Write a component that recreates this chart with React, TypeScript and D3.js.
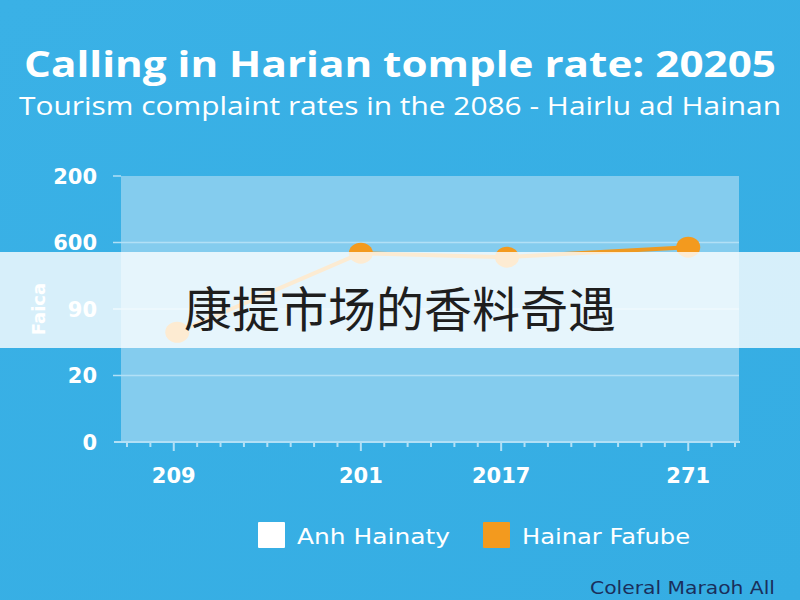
import React from 'react';
import * as d3 from 'd3';

// chart values
const xLabels = ['209', '201', '2017', '271'];
const xLabelPos = [2, 10, 16, 24];
const pointX = [2.15, 10, 16.25, 24];
const pointY = [1.65, 2.84, 2.78, 2.93];
const yLabels = ['0', '20', '90', '600', '200'];
const legendItems = ['Anh Hainaty', 'Hainar Fafube'];

const W = 800;
const H = 600;
const plot = { left: 121, right: 739, top: 176, bottom: 442 };

export default function App() {
    const x = d3.scaleLinear().domain([0, 26]).range([127, 735]);
    const y = d3.scaleLinear().domain([0, 4]).range([plot.bottom, plot.top]);
    const minorTicks = d3.range(0, 27);
    const pts = pointX.map((v, i) => [x(v), y(pointY[i])] as [number, number]);
    const line = d3.line()(pts) || '';

    const sans = '"DejaVu Sans", Verdana, sans-serif';
    const open = '"Open Sans", "DejaVu Sans", sans-serif';

    return (
        <div style={{ position: 'absolute', left: 0, top: 0 }}>
            <svg width={W} height={H} style={{ display: 'block' }}>
                <defs>
                    <linearGradient id="bg" x1="0" y1="0" x2="1" y2="1">
                        <stop offset="0" stopColor="#3ab1e6" />
                        <stop offset="1" stopColor="#35ade3" />
                    </linearGradient>
                </defs>
                <rect width={W} height={H} fill="url(#bg)" />

                <text x={W / 2} y={77} textAnchor="middle" fill="#fff" fontFamily={open}
                    fontWeight="bold" fontSize={36} textLength={752} lengthAdjust="spacingAndGlyphs">
                    Calling in Harian tomple rate: 20205</text>
                <text x={W / 2} y={115} textAnchor="middle" fill="#fff" fontFamily={open}
                    fontSize={26} textLength={762} lengthAdjust="spacingAndGlyphs">
                    Tourism complaint rates in the 2086 - Hairlu ad Hainan</text>

                {/* plot area */}
                <rect x={plot.left} y={plot.top} width={plot.right - plot.left} height={plot.bottom - plot.top}
                    fill="#84ccee" />
                {yLabels.map((l, i) => (
                    <g key={l}>
                        {i > 0 && i < yLabels.length - 1 && (
                            <line x1={113} x2={plot.right} y1={y(i)} y2={y(i)} stroke="#b2e0f6" strokeWidth={1.5} />
                        )}
                        {i === yLabels.length - 1 && (
                            <line x1={113} x2={plot.left} y1={y(i)} y2={y(i)} stroke="#b2e0f6" strokeWidth={1.5} />
                        )}
                        <text x={97} y={y(i) + 7.5} textAnchor="end" fill="#fff" fontFamily={sans}
                            fontWeight="bold" fontSize={21}>{l}</text>
                    </g>
                ))}
                <text transform={`translate(45,${y(2)}) rotate(-90)`} textAnchor="middle" fill="#fff"
                    fontFamily={sans} fontWeight="bold" fontSize={18}>Faica</text>

                {/* x axis */}
                <line x1={114} x2={740} y1={plot.bottom} y2={plot.bottom} stroke="#b2e0f6" strokeWidth={2} />
                {minorTicks.map(t => (
                    <line key={t} x1={x(t)} x2={x(t)} y1={plot.bottom} y2={plot.bottom + (xLabelPos.includes(t) ? 9 : 5)}
                        stroke="#b2e0f6" strokeWidth={2} />
                ))}
                {xLabels.map((l, i) => (
                    <text key={l} x={x(xLabelPos[i])} y={483} textAnchor="middle" fill="#fff" fontFamily={sans}
                        fontWeight="bold" fontSize={21}>{l}</text>
                ))}

                {/* series */}
                <path d={line} fill="none" stroke="#ee9a22" strokeWidth={4} />
                {pts.map((p, i) => (
                    <ellipse key={i} cx={p[0]} cy={p[1]} rx={12} ry={10.5} fill="#f39a1e" />
                ))}

                {/* overlay band */}
                <rect x={0} y={252} width={W} height={96} fill="#fff" fillOpacity={0.8} />
                <text x={W / 2} y={327} textAnchor="middle" fill="#1e1e1e"
                    fontFamily='"Noto Sans CJK SC", sans-serif' fontSize={48}>康提市场的香料奇遇</text>

                {/* legend */}
                {legendItems.map((l, i) => {
                    const lx = 258 + i * 225;
                    return (
                        <g key={l}>
                            <rect x={lx} y={522} width={27} height={26} rx={1} fill={i === 0 ? '#ffffff' : '#f39a1e'} />
                            <text x={lx + 39} y={544} fill="#fff" fontFamily={sans} fontSize={22}
                                textLength={i === 0 ? 153 : 168} lengthAdjust="spacingAndGlyphs">{l}</text>
                        </g>
                    );
                })}
                <text x={775} y={594} textAnchor="end" fill="#1a2f5c" fontFamily={sans} fontSize={18}
                    textLength={185} lengthAdjust="spacingAndGlyphs">Coleral Maraoh All</text>
            </svg>
        </div>
    );
}
